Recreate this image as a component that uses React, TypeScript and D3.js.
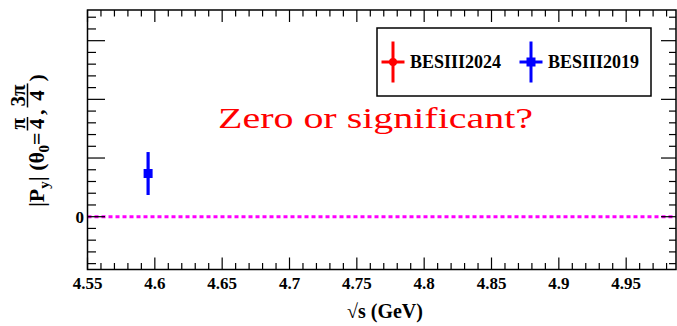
import { useEffect, useRef } from "react";
import * as d3 from "d3";

const W = 677;
const H = 326;

// series shown in the legend
const seriesNames = ["BESIII2024", "BESIII2019"];
const seriesColors = ["#ff0000", "#0000ff"];
const seriesMarkers = ["circle", "square"];

// measured point (BESIII2019), |Py| in arbitrary units
const pointX = [4.595];
const pointY = [0.736];
const pointErr = [0.366];

const xMajorTicks = [4.55, 4.6, 4.65, 4.7, 4.75, 4.8, 4.85, 4.9, 4.95];
const yTickLabels = [0];
const annotation = "Zero or significant?";

// rough advance widths (em) of the bold serif face, for laying out the y title
const adv: Record<string, number> = {
  "|": 0.22, P: 0.611, y: 0.5, " ": 0.25, "(": 0.333, ")": 0.333, "\u03B8": 0.5,
  "0": 0.5, "=": 0.57, "4": 0.5, "3": 0.5, ",": 0.25, "\u03C0": 0.55,
};
const textWidth = (t: string, size: number) =>
  Array.from(t).reduce((s, ch) => s + (adv[ch] ?? 0.5), 0) * size;

const App = () => {
  const svgRef = useRef<SVGSVGElement | null>(null);

  useEffect(() => {
    const svgEl = svgRef.current;
    if (!svgEl) return;
    const svg = d3.select(svgEl);
    svg.selectAll("*").remove();

    const x = d3.scaleLinear().domain([4.55, 4.987]).range([87.5, 676]);
    const y = d3.scaleLinear().domain([-0.9, 3.523]).range([269.5, 10]);
    const [x0, x1] = x.range();
    const [yb, yt] = y.range();

    // zero line
    svg.append("line")
      .attr("x1", x0).attr("x2", x1)
      .attr("y1", y(0)).attr("y2", y(0))
      .attr("stroke", "#ff00ff").attr("stroke-width", 3)
      .attr("stroke-dasharray", "4 3");

    // ticks
    const ticks = svg.append("g").attr("stroke", "#000").attr("stroke-width", 1.2);
    d3.range(455, 499).forEach((i) => {
      const v = i / 100;
      const major = i % 5 === 0;
      const len = major ? 12 : 6.5;
      ticks.append("line").attr("x1", x(v)).attr("x2", x(v)).attr("y1", yb).attr("y2", yb - len);
      ticks.append("line").attr("x1", x(v)).attr("x2", x(v)).attr("y1", yt).attr("y2", yt + len);
    });
    d3.range(-4, 18).forEach((i) => {
      const v = i / 5;
      const major = i % 5 === 0;
      ticks.append("line").attr("x1", x0).attr("x2", x0 + (major ? 17.5 : 8.5)).attr("y1", y(v)).attr("y2", y(v));
      ticks.append("line").attr("x1", x1).attr("x2", x1 - (major ? 15 : 7)).attr("y1", y(v)).attr("y2", y(v));
    });

    // frame
    svg.append("rect")
      .attr("x", x0).attr("y", yt)
      .attr("width", x1 - x0).attr("height", yb - yt)
      .attr("fill", "none").attr("stroke", "#000").attr("stroke-width", 1.5);

    // tick labels
    svg.append("g")
      .attr("font-weight", "bold").attr("font-size", 17)
      .selectAll("text")
      .data(xMajorTicks)
      .join("text")
      .attr("x", (d) => x(d))
      .attr("y", 289)
      .attr("text-anchor", "middle")
      .text((d) => String(+d.toFixed(2)));

    svg.append("g")
      .attr("font-weight", "bold").attr("font-size", 17)
      .selectAll("text")
      .data(yTickLabels)
      .join("text")
      .attr("x", 84)
      .attr("y", (d) => y(d) + 6)
      .attr("text-anchor", "end")
      .text((d) => String(d));

    // x title
    svg.append("text")
      .attr("x", 385).attr("y", 318)
      .attr("text-anchor", "middle")
      .attr("font-weight", "bold").attr("font-size", 20)
      .text("\u221As (GeV)");

    // y title, laid out piece by piece along the rotated baseline
    const yl = svg.append("g")
      .attr("transform", "translate(44,207) rotate(-90)")
      .attr("font-weight", "bold");
    let cx = 0;
    const piece = (t: string, size: number, dy: number) => {
      yl.append("text").attr("x", cx).attr("y", dy).attr("font-size", size).text(t);
      cx += textWidth(t, size);
    };
    const frac = (num: string, den: string) => {
      const fs = 21;
      cx += 2;
      const wn = textWidth(num, fs);
      const wd = textWidth(den, fs);
      const fw = Math.max(wn, wd) + 2;
      yl.append("text").attr("x", cx + (fw - wn) / 2).attr("y", -19).attr("font-size", fs).text(num);
      yl.append("text").attr("x", cx + (fw - wd) / 2).attr("y", 0).attr("font-size", fs).text(den);
      yl.append("line").attr("x1", cx).attr("x2", cx + fw).attr("y1", -16.5).attr("y2", -16.5)
        .attr("stroke", "#000").attr("stroke-width", 1.5);
      cx += fw + 2;
    };
    piece("|P", 22, 0);
    piece("y", 15, 5);
    piece("| (\u03B8", 22, 0);
    piece("0", 15, 5);
    piece("=", 22, 0);
    frac("\u03C0", "4");
    piece(",", 22, 0);
    frac("3\u03C0", "4");
    piece(")", 22, 0);

    // data point
    const pts = pointX.map((v, i) => ({ x: v, y: pointY[i], e: pointErr[i] }));
    const pg = svg.append("g");
    pg.selectAll("line")
      .data(pts)
      .join("line")
      .attr("x1", (d) => x(d.x)).attr("x2", (d) => x(d.x))
      .attr("y1", (d) => y(d.y - d.e)).attr("y2", (d) => y(d.y + d.e))
      .attr("stroke", seriesColors[1]).attr("stroke-width", 3.2);
    pg.selectAll("rect")
      .data(pts)
      .join("rect")
      .attr("x", (d) => x(d.x) - 4.5).attr("y", (d) => y(d.y) - 4.5)
      .attr("width", 9).attr("height", 9)
      .attr("fill", seriesColors[1]);

    // annotation, stretched a little wider as in the original
    svg.append("text")
      .attr("x", 218).attr("y", 128)
      .attr("font-size", 30)
      .attr("textLength", 315)
      .attr("lengthAdjust", "spacingAndGlyphs")
      .attr("fill", "#ff0000")
      .text(annotation);

    // legend
    const lg = svg.append("g");
    lg.append("rect")
      .attr("x", 377).attr("y", 28).attr("width", 274).attr("height", 68)
      .attr("fill", "#fff").attr("stroke", "#000").attr("stroke-width", 1.5);
    const entryX = [393, 531];
    seriesNames.forEach((name, i) => {
      const cxm = entryX[i];
      const cym = 62;
      const c = seriesColors[i];
      lg.append("line").attr("x1", cxm).attr("x2", cxm).attr("y1", cym - 20.5).attr("y2", cym + 20.5)
        .attr("stroke", c).attr("stroke-width", 3);
      lg.append("line").attr("x1", cxm - 11.5).attr("x2", cxm + 11.5).attr("y1", cym).attr("y2", cym)
        .attr("stroke", c).attr("stroke-width", 3);
      if (seriesMarkers[i] === "circle") {
        lg.append("circle").attr("cx", cxm).attr("cy", cym).attr("r", 4).attr("fill", c);
      } else {
        lg.append("rect").attr("x", cxm - 4.5).attr("y", cym - 4.5).attr("width", 9).attr("height", 9).attr("fill", c);
      }
      lg.append("text")
        .attr("x", cxm + 17).attr("y", cym + 6)
        .attr("font-weight", "bold").attr("font-size", 18)
        .text(name);
    });
  }, []);

  return (
    <svg
      ref={svgRef}
      width={W}
      height={H}
      style={{
        position: "absolute",
        left: 0,
        top: 0,
        background: "#fff",
        fontFamily: "'Liberation Serif', 'Times New Roman', Times, serif",
      }}
    />
  );
};

export default App;
